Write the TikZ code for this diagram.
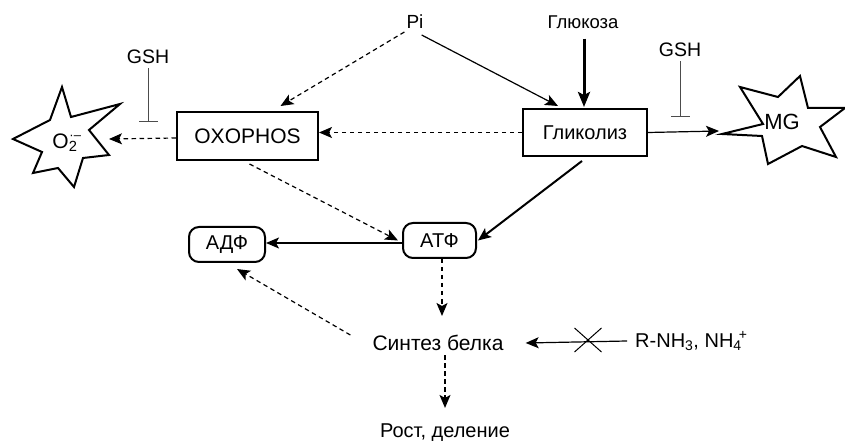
\documentclass[tikz,border=0pt]{standalone}
\usepackage{fontspec}
\setmainfont{Liberation Sans}
\usetikzlibrary{arrows.meta}
\begin{document}
\begin{tikzpicture}[x=1pt,y=-1pt,
  tip/.style={-{Stealth[length=13pt,width=11pt,inset=3pt]}},
  flow/.style={tip,line width=1.2pt},
  dflow/.style={tip,line width=1.2pt,dash pattern=on 4.5pt off 3.5pt},
  fnt/.style={font=\fontsize{#1}{#1}\selectfont},
  box/.style={draw,line width=2pt,inner sep=0pt,fnt=21},
  pill/.style={draw,line width=2pt,rounded corners=10pt,inner sep=0pt,
               minimum height=35pt,fnt=20},
  lbl/.style={inner sep=0pt,fnt=#1},
  lbl/.default=20,
  inhib/.style={-{Bar[width=19pt,line width=1.2pt]},line width=1pt,draw=black!70},
  burst/.style={draw,line width=2pt,line join=miter}
]
\useasboundingbox (0,0) rectangle (845,443);

% reactive species drawn as bursts
\draw[burst] (62,87) -- (71,117) -- (120,104) -- (89,130) -- (109,155) -- (83,158)
  -- (74,187) -- (58,168) -- (33,173) -- (42,152) -- (13,139) -- (50,120) -- cycle;
\draw[burst] (722,134) -- (763,124) -- (740,87) -- (778,97) -- (800,76) -- (808,108)
  -- (845,108) -- (820,127) -- (836,157) -- (802,146) -- (768,164) -- (762,136) -- cycle;
\coordinate (o2tip) at (109,139);
\coordinate (mgtip) at (719,131);

% labels
\node[lbl=19] (pi) at (415,22) {Pi};
\node[lbl=18.5] (glc) at (583,22) {Глюкоза};
\node[lbl=19.5] (gshL) at (148,57) {GSH};
\node[lbl=19.5] (gshR) at (680,50) {GSH};
\node[lbl=21] (o2) at (65,143) {O\rlap{\raisebox{0.45em}{\fontsize{13}{13}\selectfont\kern0.05em·–}}\textsubscript{2}};
\node[lbl=22] (mg) at (782,122) {MG};

% process boxes
\node[box,minimum width=141pt,minimum height=48pt] (ox) at (247.5,136) {OXOPHOS};
\node[box,fnt=20,minimum width=124pt,minimum height=47pt] (gly) at (585,132.5) {Гликолиз};
\node[pill,minimum width=73pt] (atp) at (439.5,240.5) {АТФ};
\node[pill,minimum width=76pt] (adp) at (227,244.5) {АДФ};

\node[lbl=21] (synth) at (438,343) {Синтез белка};
\node[lbl=20] (grow) at (445,433) {Рост, деление};
\node[lbl=20,anchor=west] (rnh) at (635,341)
  {R-NH\textsubscript{3}, NH\textsubscript{4}\kern-0.15em\textsuperscript{+}};

% inhibition by GSH
\coordinate (gshLend) at (148,122);
\coordinate (gshRend) at (680,117);
\draw[inhib] (gshL.south) ++(0,4) -- (gshLend);
\draw[inhib] (gshR.south) ++(0,4) -- (gshRend);

% connectors
\draw[dflow] (pi.west) ++(-2,10) -- ([xshift=33pt,yshift=5pt]ox.north);
\draw[flow] (pi.east) ++(-2,13) -- ([xshift=-27pt,yshift=2pt]gly.north);
\draw[-{Stealth[length=15pt,width=12pt,inset=3pt]},line width=3pt]
  (glc.south) ++(1,10) -- ([xshift=-1pt,yshift=1pt]gly.north);
\draw[dflow] (gly.west) -- (gly.west -| ox.east);
\draw[dflow] ([yshift=-2pt]ox.west) -- (o2tip);
\draw[flow] (gly.east) -- (mgtip);
\draw[dflow] ([xshift=2pt,yshift=-3pt]ox.south) -- ([xshift=-4pt]atp.west);
\draw[tip,line width=2pt] ([xshift=-3pt,yshift=-4pt]gly.south) -- ([xshift=1pt]atp.east);
\draw[flow] ([yshift=-2.5pt]atp.west) -- ([yshift=-2.5pt]atp.west -| adp.east);
\draw[dflow] ([xshift=2.5pt]atp.south) -- ([xshift=2.5pt,yshift=-57pt]atp.south);
\draw[dflow] ([xshift=-22pt,yshift=8pt]synth.west) -- ([xshift=10pt,yshift=-6pt]adp.south);
\draw[dflow] (synth.south -| grow.north) ++(0,4) -- ([yshift=16pt]grow.north);
\draw[flow] ([xshift=-8pt]rnh.west) -- ([xshift=22pt]synth.east);

% blocked uptake
\coordinate (block) at (588,340);
\draw[line width=1pt] ([shift={(-13.5,-12)}]block) -- ([shift={(13.5,12)}]block)
  ([shift={(-13.5,12)}]block) -- ([shift={(13.5,-12)}]block);
\end{tikzpicture}
\end{document}
